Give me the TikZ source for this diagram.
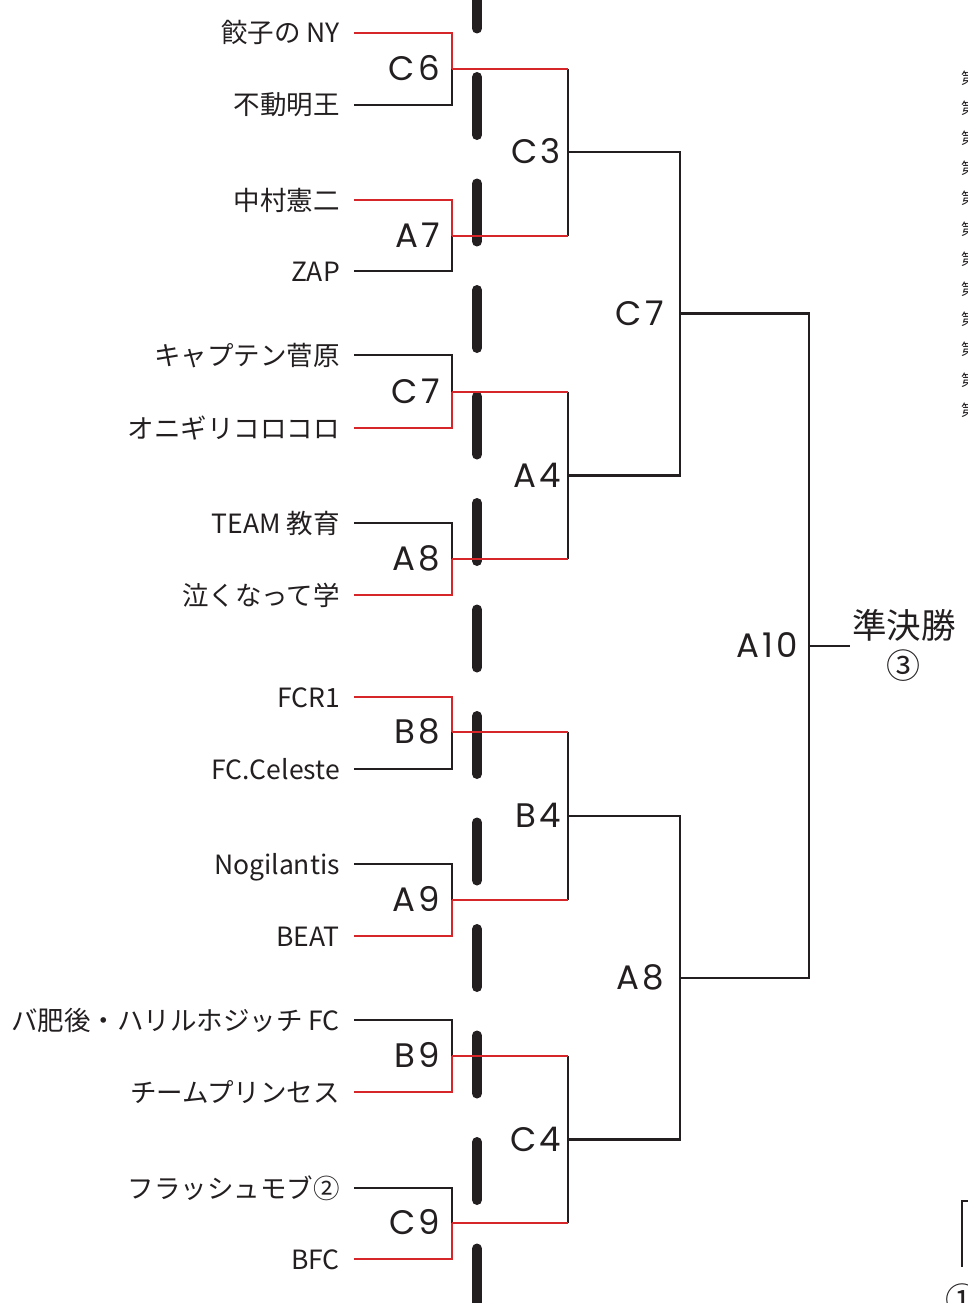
\documentclass[tikz,border=0pt]{standalone}
\usepackage{fontspec}
\newfontfamily\jpf{Noto Sans CJK JP}
\newfontfamily\labf[LetterSpace=9]{Poppins}
\definecolor{ink}{RGB}{35,31,32}
\definecolor{tred}{RGB}{215,38,42}
\begin{document}
\begin{tikzpicture}[x=1pt,y=-1pt,
  bline/.style={draw=ink,line width=2.3pt},
  rline/.style={draw=tred,line width=2.3pt},
  team/.style={anchor=east,inner sep=0pt,font=\jpf\fontsize{26.5}{30}\selectfont,text=ink,text height=24pt,text depth=4pt},
  rnd/.style={anchor=east,inner sep=0pt,font=\labf\fontsize{34}{36}\selectfont,text=ink,text height=23.5pt,text depth=0pt},
  bar/.style={draw=ink,line width=10pt,line cap=round},
  gap/.style={shorten <=14pt},
  edgeglyph/.style={anchor=west,inner sep=0pt,font=\jpf\fontsize{16}{16}\selectfont,text=ink}
]
\useasboundingbox (0,0) rectangle (968,1303);
\clip (0,0) rectangle (968,1303);

% dashed centre divider
\foreach \k in {0,...,13} {
  \draw[bar] (477,{-29.5+106.5*\k}) -- (477,{28.5+106.5*\k});
}

% ---------- first round ----------
\node[team] (a1) at (340,33) {餃子の NY};
\node[team] (b1) at (340,105) {不動明王};
\coordinate (m1) at (452,69);
\draw[bline,gap] (b1.east) -| (m1);
\draw[rline,gap] (a1.east) -| (m1);
\node[rnd] (l1) at (440,69) {C6};

\node[team] (a2) at (340,200) {中村憲二};
\node[team] (b2) at (340,271) {ZAP};
\coordinate (m2) at (452,236);
\draw[bline,gap] (b2.east) -| (m2);
\draw[rline,gap] (a2.east) -| (m2);
\node[rnd] (l2) at (440,236) {A7};

\node[team] (a3) at (340,355) {キャプテン菅原};
\node[team] (b3) at (340,428) {オニギリコロコロ};
\coordinate (m3) at (452,392);
\draw[bline,gap] (a3.east) -| (m3);
\draw[rline,gap] (b3.east) -| (m3);
\node[rnd] (l3) at (440,392) {C7};

\node[team] (a4) at (340,523) {TEAM 教育};
\node[team] (b4) at (340,595) {泣くなって学};
\coordinate (m4) at (452,559);
\draw[bline,gap] (a4.east) -| (m4);
\draw[rline,gap] (b4.east) -| (m4);
\node[rnd] (l4) at (440,559) {A8};

\node[team] (a5) at (340,697) {FCR1};
\node[team] (b5) at (340,769) {FC.Celeste};
\coordinate (m5) at (452,732);
\draw[bline,gap] (b5.east) -| (m5);
\draw[rline,gap] (a5.east) -| (m5);
\node[rnd] (l5) at (440,732) {B8};

\node[team] (a6) at (340,864) {Nogilantis};
\node[team] (b6) at (340,936) {BEAT};
\coordinate (m6) at (452,900);
\draw[bline,gap] (a6.east) -| (m6);
\draw[rline,gap] (b6.east) -| (m6);
\node[rnd] (l6) at (440,900) {A9};

\node[team] (a7) at (340,1020) {バ肥後・ハリルホジッチ FC};
\node[team] (b7) at (340,1092) {チームプリンセス};
\coordinate (m7) at (452,1056);
\draw[bline,gap] (a7.east) -| (m7);
\draw[rline,gap] (b7.east) -| (m7);
\node[rnd] (l7) at (440,1056) {B9};

\node[team] (a8) at (340,1188) {フラッシュモブ②};
\node[team] (b8) at (340,1259) {BFC};
\coordinate (m8) at (452,1223);
\draw[bline,gap] (a8.east) -| (m8);
\draw[rline,gap] (b8.east) -| (m8);
\node[rnd] (l8) at (440,1223) {C9};

% ---------- second round ----------
\coordinate (j1) at (568,152);
\coordinate (j2) at (568,475.5);
\coordinate (j3) at (568,816);
\coordinate (j4) at (568,1139.5);
\draw[bline] (m1 -| j1) -- (m2 -| j1);
\draw[bline] (m3 -| j2) -- (m4 -| j2);
\draw[bline] (m5 -| j3) -- (m6 -| j3);
\draw[bline] (m7 -| j4) -- (m8 -| j4);
\draw[rline] (m1) -- (m1 -| j1);
\draw[rline] (m2) -- (m2 -| j1);
\draw[rline] (m3) -- (m3 -| j2);
\draw[rline] (m4) -- (m4 -| j2);
\draw[rline] (m5) -- (m5 -| j3);
\draw[rline] (m6) -- (m6 -| j3);
\draw[rline] (m7) -- (m7 -| j4);
\draw[rline] (m8) -- (m8 -| j4);
\node[rnd] (r1) at (561,152) {C3};
\node[rnd] (r2) at (561,475.5) {A4};
\node[rnd] (r3) at (561,816) {B4};
\node[rnd] (r4) at (561,1139.5) {C4};

% ---------- third round ----------
\coordinate (k1) at (680,313.5);
\coordinate (k2) at (680,978);
\draw[bline] (j1) -| (k1);
\draw[bline] (j2) -| (k1);
\draw[bline] (j3) -| (k2);
\draw[bline] (j4) -| (k2);
\node[rnd] (q1) at (664,313.5) {C7};
\node[rnd] (q2) at (664,978) {A8};

% ---------- final ----------
\coordinate (f) at (809,646);
\coordinate (e) at (850,646);
\draw[bline] (k1) -| (f);
\draw[bline] (k2) -| (f);
\draw[bline] (f) -- (e);
\node[rnd] (fl) at (798,646) {A10};
\node[inner sep=0pt,font=\jpf\fontsize{34.5}{36}\selectfont,text=ink] (sf) at (904,625) {準決勝};
\node[inner sep=0pt,font=\jpf\fontsize{34}{36}\selectfont,text=ink] (n3) at (903,666) {③};

% ---------- cropped content at the right edge ----------
\foreach \k in {0,...,11} {
  \node[edgeglyph] at (961,{78+30.2*\k}) {第};
}
\coordinate (bt) at (962,1201);
\coordinate (bb) at (962,1267);
\draw[draw=ink,line width=1.5pt] (968,1201) -- (bt) -- (bb);
\node[inner sep=0pt,font=\jpf\fontsize{34}{34}\selectfont,text=ink] (c1) at (962,1300) {①};
\end{tikzpicture}
\end{document}
